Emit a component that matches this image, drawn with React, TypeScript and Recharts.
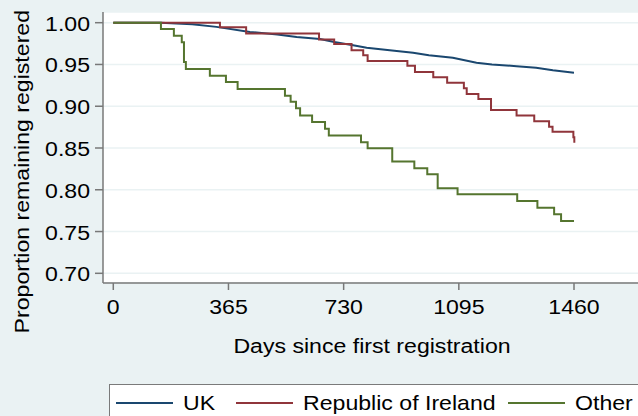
import React from 'react';
import { LineChart, Line, XAxis, YAxis, CartesianGrid, Legend } from 'recharts';

// Kaplan-Meier style estimates, by origin group
const ukDays = [0, 150, 250, 327, 433, 520, 581, 655, 700, 760, 803, 876, 950, 1000, 1076, 1151, 1200, 1278, 1340, 1393, 1460];
const ukValues = [1.0, 1.0, 0.998, 0.995, 0.989, 0.986, 0.983, 0.9805, 0.977, 0.973, 0.97, 0.967, 0.964, 0.961, 0.958, 0.952, 0.95, 0.948, 0.946, 0.943, 0.94];

const roiDays = [0, 338, 421, 652, 700, 755, 792, 806, 932, 956, 1014, 1058, 1111, 1120, 1157, 1197, 1278, 1334, 1381, 1392, 1458, 1461];
const roiValues = [1.0, 0.9945, 0.987, 0.98, 0.9745, 0.967, 0.961, 0.954, 0.9485, 0.941, 0.9346, 0.928, 0.9215, 0.9146, 0.9086, 0.8955, 0.889, 0.882, 0.8755, 0.8695, 0.8628, 0.8564];

const otherDays = [0, 151, 192, 217, 224, 230, 306, 357, 394, 544, 562, 579, 592, 630, 671, 683, 785, 806, 884, 954, 995, 1028, 1091, 1280, 1344, 1397, 1419, 1460];
const otherValues = [1.0, 0.9925, 0.9845, 0.9765, 0.953, 0.9446, 0.9366, 0.929, 0.9206, 0.9126, 0.9054, 0.8975, 0.889, 0.881, 0.873, 0.865, 0.857, 0.8497, 0.8337, 0.8257, 0.8186, 0.8018, 0.7946, 0.7865, 0.7786, 0.7706, 0.7626, 0.7626];

const xTicks = [0, 365, 730, 1095, 1460];
const yTicks = [0.7, 0.75, 0.8, 0.85, 0.9, 0.95, 1.0];

const toPoints = (days: number[], values: number[]) =>
  days.map((d, i) => ({ day: d, value: values[i] }));

const series = [
  { name: 'UK', color: '#1a476f', type: 'linear', data: toPoints(ukDays, ukValues) },
  { name: 'Republic of Ireland', color: '#90353b', type: 'stepAfter', data: toPoints(roiDays, roiValues) },
  { name: 'Other', color: '#55752f', type: 'stepAfter', data: toPoints(otherDays, otherValues) },
];

const FONT = '"Liberation Sans", Arial, Helvetica, sans-serif';
const BG = '#eaf2f3';
const AXIS = '#787878';

function XTick(props: any) {
  const { x, y, payload } = props;
  return (
    <text transform={`translate(${x},${y + 24}) scale(1.1,1)`} textAnchor="middle" fontSize={21} fontFamily={FONT} fill="#000">
      {payload.value}
    </text>
  );
}

function YTick(props: any) {
  const { x, y, payload } = props;
  return (
    <text transform={`translate(${x},${y + 8}) scale(1.1,1)`} textAnchor="end" fontSize={21} fontFamily={FONT} fill="#000">
      {Number(payload.value).toFixed(2)}
    </text>
  );
}

const xTitle = () => (
  <text transform="translate(372,352.5) scale(1.1,1)" textAnchor="middle" fontSize={21} fontFamily={FONT} fill="#000">
    Days since first registration
  </text>
);

const yTitle = () => (
  <text transform="translate(29.3,171.7) rotate(-90) scale(1.1,1)" textAnchor="middle" fontSize={21} fontFamily={FONT} fill="#000">
    Proportion remaining registered
  </text>
);

const legendWidths = [120, 272, 140];

function KeyBox() {
  return (
    <div
      style={{
        position: 'absolute',
        left: 109,
        top: 384,
        width: 600,
        height: 38,
        boxSizing: 'border-box',
        border: '1px solid #7a7a7a',
        background: '#fff',
        display: 'flex',
        alignItems: 'center',
        paddingLeft: 6,
        fontFamily: FONT,
        fontSize: 21,
        lineHeight: '24px',
      }}
    >
      {series.map((s, i) => (
        <div key={s.name} style={{ width: legendWidths[i], display: 'flex', alignItems: 'center', flex: 'none' }}>
          <span style={{ display: 'inline-block', width: 57, height: 2, background: s.color, marginRight: 10 }} />
          <span style={{ display: 'inline-block', transform: 'scaleX(1.1)', transformOrigin: 'left center', whiteSpace: 'nowrap', color: '#000' }}>
            {s.name}
          </span>
        </div>
      ))}
    </div>
  );
}

export default function App() {
  return (
    <div style={{ width: 638, height: 416, background: BG, position: 'relative', overflow: 'hidden' }}>
      <style>{'body{margin:0}'}</style>
      <LineChart width={638} height={416} data={series[0].data} margin={{ top: 12, right: 0, bottom: 0, left: 0 }}>
        <CartesianGrid vertical={false} stroke={BG} strokeWidth={1.5} fill="#fff" />
        <XAxis
          type="number"
          dataKey="day"
          domain={[-32.6, 1662.8]}
          ticks={xTicks}
          allowDataOverflow
          height={133}
          tickSize={7}
          tickMargin={0}
          stroke={AXIS}
          strokeWidth={1.5}
          tick={<XTick />}
          label={xTitle as any}
        />
        <YAxis
          type="number"
          domain={[0.6884, 1.0128]}
          ticks={yTicks}
          allowDataOverflow
          width={103}
          tickSize={8}
          tickMargin={5}
          stroke={AXIS}
          strokeWidth={1.5}
          tick={<YTick />}
          label={yTitle as any}
        />
        {series.map((s) => (
          <Line
            key={s.name}
            name={s.name}
            data={s.data}
            dataKey="value"
            type={s.type as any}
            stroke={s.color}
            strokeWidth={2}
            dot={false}
            activeDot={false}
            isAnimationActive={false}
          />
        ))}
        <Legend
          content={() => <KeyBox />}
          wrapperStyle={{ position: 'absolute', left: 0, top: 0, width: 0, height: 0, overflow: 'visible' }}
        />
      </LineChart>
    </div>
  );
}
